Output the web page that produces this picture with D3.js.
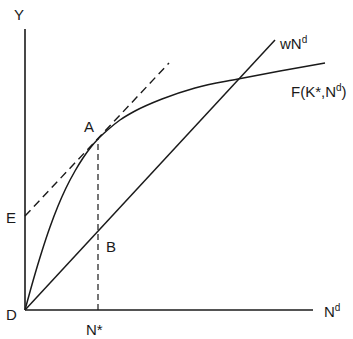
<!DOCTYPE html>
<html>
<head>
<meta charset="utf-8">
<script src="https://cdn.jsdelivr.net/npm/d3@7/dist/d3.min.js"></script>
<style>
  html, body { margin: 0; padding: 0; background: #fff; }
  svg { display: block; }
  text { font-family: "Liberation Sans", Arial, sans-serif; fill: #1a1a1a; }
</style>
</head>
<body>
<svg id="chart" width="353" height="339"></svg>
<script>
// Production function F(K*, N^d)
const curveN = [0, 8, 17, 25, 33, 41, 50, 58, 66, 73, 82, 95, 110, 137, 170, 213, 255, 300];
const curveY = [0, 29, 59, 83, 104, 122, 139, 152, 163, 171, 179.5, 190, 199, 211, 222, 231, 239, 247];
// Wage-bill line wN^d
const wageN = [0, 250];
const wageY = [0, 270];
// Tangent line at A (dashed), starting at E
const tangentN = [0, 144];
const tangentY = [94, 247];
// Optimal labour N*
const nStar = 73;
const yAtA = 171;
const yAtB = 79;

const svg = d3.select("#chart");
const x = d3.scaleLinear().domain([0, 288]).range([25, 313]);
const y = d3.scaleLinear().domain([0, 281]).range([310, 29]);

const ink = "#1a1a1a";

// axes
svg.append("line").attr("x1", x(0)).attr("x2", x(0)).attr("y1", y(0)).attr("y2", y(281))
  .attr("stroke", ink).attr("stroke-width", 1.6);
svg.append("line").attr("x1", x(0)).attr("x2", x(288)).attr("y1", y(0)).attr("y2", y(0))
  .attr("stroke", ink).attr("stroke-width", 1.6);

const line = d3.line().x(d => x(d[0])).y(d => y(d[1]));

// tangent dashed
svg.append("path").datum(tangentN.map((n, i) => [n, tangentY[i]]))
  .attr("d", line).attr("fill", "none").attr("stroke", ink)
  .attr("stroke-width", 1.4).attr("stroke-dasharray", "8,5");

// vertical dashed at N*
svg.append("line").attr("x1", x(nStar)).attr("x2", x(nStar)).attr("y1", y(0)).attr("y2", y(yAtA))
  .attr("stroke", ink).attr("stroke-width", 1.2).attr("stroke-dasharray", "6,4");

// wage line
svg.append("path").datum(wageN.map((n, i) => [n, wageY[i]]))
  .attr("d", line).attr("fill", "none").attr("stroke", ink).attr("stroke-width", 1.5);

// production function
svg.append("path").datum(curveN.map((n, i) => [n, curveY[i]]))
  .attr("d", line.curve(d3.curveMonotoneX)).attr("fill", "none").attr("stroke", ink).attr("stroke-width", 1.5);

// labels
const fs = 15;
function label(t, px, py) {
  return svg.append("text").attr("x", px).attr("y", py).attr("font-size", fs).text(t);
}
label("Y", 14, 20);
label("D", 6, 320);
label("E", 6, 223);
label("A", x(nStar) - 14, y(yAtA) - 7);
label("B", x(nStar) + 8, y(yAtB) + 21);
const ns = svg.append("text").attr("x", x(nStar) - 12).attr("y", 335).attr("font-size", fs);
ns.append("tspan").text("N*");

const nd = svg.append("text").attr("x", 324).attr("y", 317).attr("font-size", fs);
nd.append("tspan").text("N");
nd.append("tspan").attr("font-size", 10).attr("dy", -6).text("d");

const w = svg.append("text").attr("x", 280).attr("y", 49).attr("font-size", fs);
w.append("tspan").text("wN");
w.append("tspan").attr("font-size", 10).attr("dy", -6).text("d");

const f = svg.append("text").attr("x", 291).attr("y", 97).attr("font-size", fs);
f.append("tspan").text("F(K*,N");
f.append("tspan").attr("font-size", 10).attr("dy", -6).text("d");
f.append("tspan").attr("dy", 6).text(")");
</script>
</body>
</html>
